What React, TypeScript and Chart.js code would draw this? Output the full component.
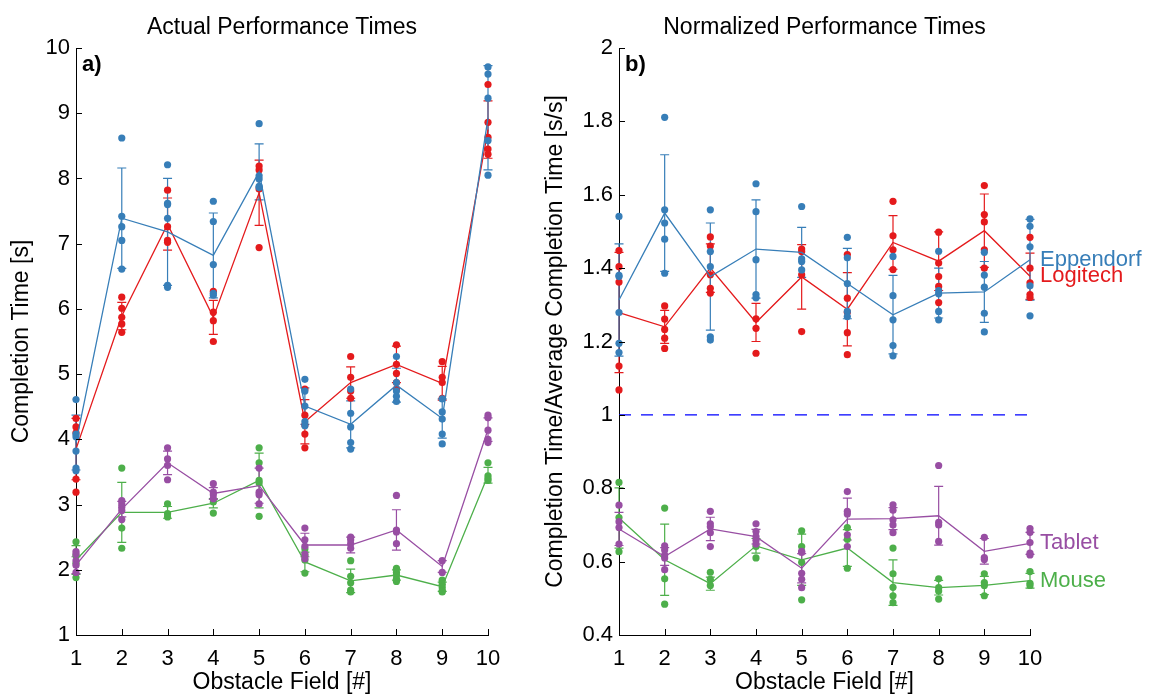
import React, { useEffect, useRef } from "react";
import { Chart, registerables } from "chart.js";

Chart.register(...registerables);

const FONT = '"Liberation Sans", Arial, Helvetica, sans-serif';

// Obstacle fields on the x axis
const fields = [1, 2, 3, 4, 5, 6, 7, 8, 9, 10];
const actualTicks = [1, 2, 3, 4, 5, 6, 7, 8, 9, 10];
const normalizedTicks = [0.4, 0.6, 0.8, 1, 1.2, 1.4, 1.6, 1.8, 2];
const referenceLevel = 1;

// ---- Actual completion times [s]: single trials, mean and SD per field ----
const actualEppendorfTrials = [
  [4.61, 4.08, 4.04, 3.82, 3.56, 3.52],
  [8.62, 7.42, 7.26, 7.05, 6.61],
  [8.21, 7.62, 7.6, 7.39, 6.36, 6.33],
  [7.65, 7.34, 6.68, 6.24, 6.21],
  [8.84, 8.04, 7.99, 7.88, 7.86],
  [4.92, 4.74, 4.51, 4.27, 4.21],
  [4.77, 4.4, 4.19, 3.95, 3.85],
  [5.27, 4.87, 4.74, 4.66, 4.58],
  [4.62, 4.42, 4.31, 4.08, 3.93],
  [9.71, 9.6, 9.23, 8.58, 8.05],
];
const actualEppendorfMean = [3.95, 7.39, 7.18, 6.82, 8.1, 4.51, 4.23, 4.83, 4.32, 8.93];
const actualEppendorfSd = [0.42, 0.77, 0.82, 0.65, 0.43, 0.28, 0.36, 0.26, 0.3, 0.8];

const actualLogitechTrials = [
  [4.32, 4.19, 4.1, 3.39, 3.19],
  [6.18, 6.01, 5.87, 5.77, 5.64],
  [7.82, 7.26, 7.05, 7.02],
  [6.27, 5.95, 5.82, 5.5],
  [8.19, 8.13, 7.84, 6.94],
  [4.77, 4.37, 4.22, 4.08, 3.87],
  [5.27, 4.95, 4.74, 4.63],
  [5.45, 5.15, 5.01, 4.87, 4.77],
  [5.19, 4.95, 4.87, 4.63],
  [9.44, 8.86, 8.63, 8.45, 8.37],
];
const actualLogitechMean = [3.85, 5.89, 7.3, 5.87, 7.78, 4.27, 4.87, 5.15, 4.86, 8.75];
const actualLogitechSd = [0.47, 0.21, 0.4, 0.26, 0.5, 0.34, 0.24, 0.28, 0.26, 0.44];

const actualTabletTrials = [
  [2.28, 2.24, 2.14, 2.07, 1.96],
  [3.06, 3.01, 2.96, 2.91, 2.77],
  [3.87, 3.7, 3.6, 3.38],
  [3.32, 3.19, 3.15, 3.09],
  [3.56, 3.19, 3.15, 3.01],
  [2.64, 2.46, 2.36, 2.24, 2.17],
  [2.5, 2.46, 2.4, 2.33],
  [3.14, 2.61, 2.58, 2.4],
  [2.14, 1.96],
  [4.37, 4.33, 4.14, 4.0, 3.95],
];
const actualTabletMean = [2.07, 2.93, 3.64, 3.17, 3.29, 2.38, 2.38, 2.61, 2.05, 4.15];
const actualTabletSd = [0.13, 0.12, 0.18, 0.09, 0.27, 0.18, 0.12, 0.31, 0.09, 0.18];

const actualMouseTrials = [
  [2.43, 2.22, 2.1, 1.88],
  [3.56, 2.64, 2.33],
  [3.01, 2.86, 2.81],
  [3.04, 2.87],
  [3.87, 3.64, 3.37, 3.33, 2.82],
  [2.32, 2.22, 2.15, 1.95],
  [2.14, 1.9, 1.8, 1.69, 1.66],
  [2.02, 1.96, 1.92, 1.86, 1.82],
  [1.84, 1.78, 1.73, 1.68, 1.66],
  [3.64, 3.44, 3.4, 3.37],
];
const actualMouseMean = [2.15, 2.88, 2.88, 3.02, 3.37, 2.12, 1.83, 1.92, 1.74, 3.45];
const actualMouseSd = [0.22, 0.46, 0.09, 0.07, 0.42, 0.15, 0.18, 0.08, 0.07, 0.12];

// ---- Normalized completion times [s/s] ----
const normEppendorfTrials = [
  [1.541, 1.38, 1.377, 1.279, 1.195, 1.17],
  [1.811, 1.559, 1.523, 1.479, 1.386],
  [1.559, 1.445, 1.404, 1.213, 1.204],
  [1.63, 1.554, 1.423, 1.328, 1.319],
  [1.568, 1.425, 1.418, 1.395],
  [1.484, 1.428, 1.358, 1.282, 1.268],
  [1.432, 1.325, 1.259, 1.189, 1.161],
  [1.446, 1.339, 1.33, 1.282, 1.259],
  [1.443, 1.381, 1.348, 1.277, 1.226],
  [1.534, 1.514, 1.458, 1.352, 1.27],
];
const normEppendorfMean = [1.313, 1.55, 1.377, 1.452, 1.443, 1.358, 1.273, 1.332, 1.335, 1.423];
const normEppendorfSd = [0.153, 0.159, 0.146, 0.134, 0.068, 0.096, 0.107, 0.068, 0.083, 0.11];

const normLogitechTrials = [
  [1.448, 1.404, 1.362, 1.133, 1.068],
  [1.297, 1.261, 1.233, 1.209, 1.181],
  [1.485, 1.46, 1.382, 1.345, 1.332],
  [1.262, 1.236, 1.168],
  [1.452, 1.445, 1.382, 1.227],
  [1.437, 1.318, 1.28, 1.224, 1.164],
  [1.582, 1.488, 1.45, 1.396],
  [1.498, 1.414, 1.377, 1.35, 1.306],
  [1.625, 1.546, 1.526, 1.45, 1.4],
  [1.484, 1.4, 1.36, 1.328, 1.32],
];
const normLogitechMean = [1.279, 1.24, 1.4, 1.252, 1.376, 1.288, 1.47, 1.419, 1.502, 1.378];
const normLogitechSd = [0.164, 0.045, 0.066, 0.052, 0.088, 0.1, 0.073, 0.08, 0.1, 0.063];

const normTabletTrials = [
  [0.754, 0.709, 0.693, 0.648],
  [0.643, 0.632, 0.618, 0.61, 0.578],
  [0.737, 0.703, 0.695, 0.679, 0.641],
  [0.703, 0.682, 0.668, 0.658, 0.648],
  [0.628, 0.625, 0.568, 0.552, 0.529],
  [0.791, 0.737, 0.73, 0.673, 0.641],
  [0.755, 0.74, 0.714, 0.7, 0.679],
  [0.862, 0.707, 0.7, 0.655],
  [0.666, 0.611, 0.606],
  [0.69, 0.68, 0.652, 0.623, 0.618],
];
const normTabletMean = [0.689, 0.614, 0.689, 0.668, 0.582, 0.716, 0.717, 0.725, 0.628, 0.65];
const normTabletSd = [0.045, 0.024, 0.032, 0.02, 0.04, 0.057, 0.03, 0.08, 0.035, 0.03];

const normMouseTrials = [
  [0.816, 0.72, 0.627],
  [0.746, 0.553, 0.484],
  [0.571, 0.552, 0.535],
  [0.641, 0.61],
  [0.684, 0.641, 0.598, 0.496],
  [0.693, 0.661, 0.582],
  [0.637, 0.567, 0.53, 0.507, 0.488],
  [0.553, 0.529, 0.52, 0.498],
  [0.567, 0.543, 0.535, 0.507],
  [0.573, 0.541, 0.535],
];
const normMouseMean = [0.719, 0.605, 0.54, 0.643, 0.605, 0.637, 0.543, 0.529, 0.535, 0.548];
const normMouseSd = [0.082, 0.097, 0.018, 0.02, 0.07, 0.05, 0.062, 0.02, 0.025, 0.02];

const COLORS = {
  Eppendorf: "#377eb8",
  Logitech: "#e41a1c",
  Tablet: "#984ea3",
  Mouse: "#4daf4a",
};

type Series = { name: string; color: string; trials: number[][]; mean: number[]; sd: number[] };

type Panel = {
  title: string;
  tag: string;
  yTitle: string;
  yTitleGap: number;
  yMin: number;
  yMax: number;
  yTicks: number[];
  series: Series[];
  showNames: boolean;
  refLine: number | null;
  yAxisWidth: number;
  padRight: number;
};

const actualPanel: Panel = {
  title: "Actual Performance Times",
  tag: "a)",
  yTitle: "Completion Time [s]",
  yTitleGap: 48,
  yMin: 1,
  yMax: 10,
  yTicks: actualTicks,
  showNames: false,
  refLine: null,
  yAxisWidth: 76,
  padRight: 42,
  series: [
    { name: "Eppendorf", color: COLORS.Eppendorf, trials: actualEppendorfTrials, mean: actualEppendorfMean, sd: actualEppendorfSd },
    { name: "Logitech", color: COLORS.Logitech, trials: actualLogitechTrials, mean: actualLogitechMean, sd: actualLogitechSd },
    { name: "Tablet", color: COLORS.Tablet, trials: actualTabletTrials, mean: actualTabletMean, sd: actualTabletSd },
    { name: "Mouse", color: COLORS.Mouse, trials: actualMouseTrials, mean: actualMouseMean, sd: actualMouseSd },
  ],
};

const normalizedPanel: Panel = {
  title: "Normalized Performance Times",
  tag: "b)",
  yTitle: "Completion Time/Average Completion Time [s/s]",
  yTitleGap: 57,
  yMin: 0.4,
  yMax: 2,
  yTicks: normalizedTicks,
  showNames: true,
  refLine: referenceLevel,
  yAxisWidth: 89,
  padRight: 120,
  series: [
    { name: "Eppendorf", color: COLORS.Eppendorf, trials: normEppendorfTrials, mean: normEppendorfMean, sd: normEppendorfSd },
    { name: "Logitech", color: COLORS.Logitech, trials: normLogitechTrials, mean: normLogitechMean, sd: normLogitechSd },
    { name: "Tablet", color: COLORS.Tablet, trials: normTabletTrials, mean: normTabletMean, sd: normTabletSd },
    { name: "Mouse", color: COLORS.Mouse, trials: normMouseTrials, mean: normMouseMean, sd: normMouseSd },
  ],
};

function decorPlugin(panel: Panel) {
  return {
    id: "panelDecor",
    // error bars (mean ± SD) underneath the markers
    beforeDatasetsDraw(chart: any) {
      const { ctx } = chart;
      const xs = chart.scales.x;
      const ys = chart.scales.y;
      ctx.save();
      ctx.lineWidth = 1.2;
      for (const s of [...panel.series].reverse()) {
        ctx.strokeStyle = s.color;
        s.mean.forEach((m, i) => {
          const px = xs.getPixelForValue(fields[i]);
          const top = ys.getPixelForValue(m + s.sd[i]);
          const bot = ys.getPixelForValue(m - s.sd[i]);
          ctx.beginPath();
          ctx.moveTo(px, top);
          ctx.lineTo(px, bot);
          ctx.moveTo(px - 4.5, top);
          ctx.lineTo(px + 4.5, top);
          ctx.moveTo(px - 4.5, bot);
          ctx.lineTo(px + 4.5, bot);
          ctx.stroke();
        });
      }
      ctx.restore();
    },
    afterDraw(chart: any) {
      const { ctx, chartArea: ca } = chart;
      const xs = chart.scales.x;
      const ys = chart.scales.y;
      ctx.save();
      // inward tick marks
      ctx.strokeStyle = "#000";
      ctx.lineWidth = 1;
      ctx.beginPath();
      for (const f of fields) {
        const px = Math.round(xs.getPixelForValue(f)) + 0.5;
        ctx.moveTo(px, ca.bottom);
        ctx.lineTo(px, ca.bottom - 6);
      }
      for (const t of panel.yTicks) {
        const py = Math.round(ys.getPixelForValue(t)) + 0.5;
        ctx.moveTo(ca.left, py);
        ctx.lineTo(ca.left + 6, py);
      }
      ctx.stroke();

      const cx = (ca.left + ca.right) / 2;
      ctx.fillStyle = "#000";
      ctx.font = `23px ${FONT}`;
      ctx.textAlign = "center";
      ctx.textBaseline = "alphabetic";
      ctx.fillText(panel.title, cx, ca.top - 14);
      ctx.fillText("Obstacle Field [#]", cx, ca.bottom + 54);

      ctx.save();
      ctx.translate(ca.left - panel.yTitleGap, (ca.top + ca.bottom) / 2);
      ctx.rotate(-Math.PI / 2);
      ctx.fillText(panel.yTitle, 0, 0);
      ctx.restore();

      ctx.font = `bold 22px ${FONT}`;
      ctx.textAlign = "left";
      ctx.fillText(panel.tag, ca.left + 6, ca.top + 23);

      if (panel.showNames) {
        ctx.font = `22px ${FONT}`;
        ctx.textBaseline = "middle";
        for (const s of panel.series) {
          ctx.fillStyle = s.color;
          const last = s.mean[s.mean.length - 1];
          ctx.fillText(s.name, ca.right + 10, ys.getPixelForValue(last));
        }
      }
      ctx.restore();
    },
  };
}

function buildChart(canvas: HTMLCanvasElement, panel: Panel) {
  const datasets: any[] = [];
  panel.series.forEach((s, i) => {
    datasets.push({
      label: s.name,
      data: s.mean.map((v, f) => ({ x: fields[f], y: v })),
      showLine: true,
      borderColor: s.color,
      backgroundColor: s.color,
      borderWidth: 1.3,
      pointRadius: 0,
      tension: 0,
      order: i * 2,
      clip: false,
    });
    datasets.push({
      label: s.name + " trials",
      data: s.trials.flatMap((vals, f) => vals.map((v) => ({ x: fields[f], y: v }))),
      showLine: false,
      backgroundColor: s.color,
      borderColor: s.color,
      borderWidth: 0,
      pointRadius: 3.6,
      order: i * 2 + 1,
      clip: false,
    });
  });
  if (panel.refLine !== null) {
    datasets.push({
      label: "reference",
      data: [
        { x: fields[0], y: panel.refLine },
        { x: fields[fields.length - 1], y: panel.refLine },
      ],
      showLine: true,
      borderColor: "#0000ff",
      borderWidth: 1.4,
      borderDash: [12, 10],
      pointRadius: 0,
      order: 100,
      clip: false,
    });
  }

  const tickFont = { family: FONT, size: 22 };
  const fmt = (v: any) => String(+Number(v).toFixed(2));

  return new Chart(canvas, {
    type: "scatter",
    data: { datasets },
    plugins: [decorPlugin(panel)],
    options: {
      responsive: false,
      animation: false,
      events: [],
      layout: { padding: { left: 0, right: panel.padRight, top: 48, bottom: 0 } },
      plugins: { legend: { display: false }, tooltip: { enabled: false }, title: { display: false } },
      scales: {
        x: {
          type: "linear",
          min: fields[0],
          max: fields[fields.length - 1],
          afterBuildTicks: (s: any) => {
            s.ticks = fields.map((v) => ({ value: v }));
          },
          afterFit: (s: any) => {
            s.height = 59;
          },
          grid: { display: false, drawTicks: false, tickLength: 0 },
          border: { display: true, color: "#000", width: 1 },
          ticks: { color: "#000", font: tickFont, padding: 11, maxRotation: 0, autoSkip: false, callback: fmt },
        },
        y: {
          type: "linear",
          min: panel.yMin,
          max: panel.yMax,
          afterBuildTicks: (s: any) => {
            s.ticks = panel.yTicks.map((v) => ({ value: v }));
          },
          afterFit: (s: any) => {
            s.width = panel.yAxisWidth;
          },
          grid: { display: false, drawTicks: false, tickLength: 0 },
          border: { display: true, color: "#000", width: 1 },
          ticks: { color: "#000", font: tickFont, padding: 6, autoSkip: false, callback: fmt },
        },
      },
    } as any,
  });
}

function PanelChart({ panel, left, width }: { panel: Panel; left: number; width: number }) {
  const ref = useRef<HTMLCanvasElement | null>(null);
  useEffect(() => {
    if (!ref.current) return;
    const chart = buildChart(ref.current, panel);
    return () => chart.destroy();
  }, [panel]);
  return (
    <canvas
      ref={ref}
      width={width}
      height={694}
      style={{ position: "absolute", left, top: 0, width, height: 694, display: "block" }}
    />
  );
}

export default function App() {
  return (
    <div style={{ position: "fixed", left: 0, top: 0, width: 1150, height: 694, background: "#fff", overflow: "hidden" }}>
      <PanelChart panel={actualPanel} left={0} width={530} />
      <PanelChart panel={normalizedPanel} left={530} width={620} />
    </div>
  );
}
